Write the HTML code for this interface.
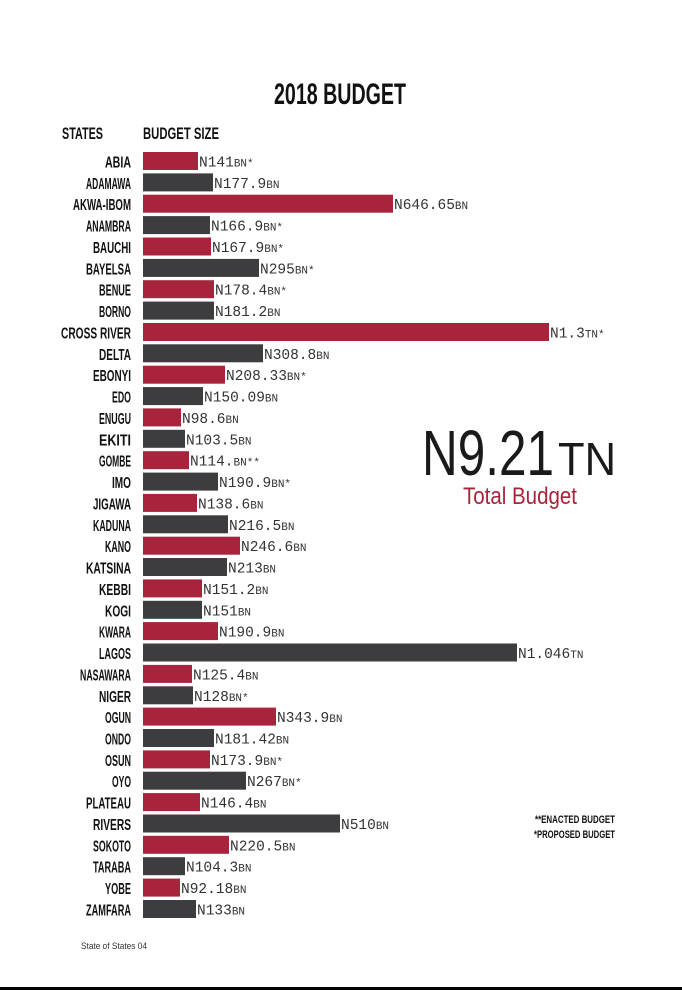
<!DOCTYPE html>
<html><head><meta charset="utf-8"><style>
html,body{margin:0;padding:0;background:#fff;width:682px;height:990px;overflow:hidden}
svg{display:block}
.st{font-family:"Liberation Sans",sans-serif;font-weight:bold;font-size:16px;fill:#111}
.v{font-family:"Liberation Mono",monospace;font-size:14.5px;fill:#333}
.s{font-size:11px}
</style></head><body>
<svg width="682" height="990" xmlns="http://www.w3.org/2000/svg">
<text x="340" y="104" text-anchor="middle" font-family="Liberation Sans,sans-serif" font-weight="bold" font-size="30" fill="#111" textLength="132" lengthAdjust="spacingAndGlyphs">2018 BUDGET</text>
<text x="62" y="139" font-family="Liberation Sans,sans-serif" font-weight="bold" font-size="17" fill="#111" textLength="41" lengthAdjust="spacingAndGlyphs">STATES</text>
<text x="143" y="139" font-family="Liberation Sans,sans-serif" font-weight="bold" font-size="17" fill="#111" textLength="76" lengthAdjust="spacingAndGlyphs">BUDGET SIZE</text>
<g id="rows"></g>
<text x="422" y="475" font-family="Liberation Sans,sans-serif" font-size="64" fill="#1a1a1a" textLength="132" lengthAdjust="spacingAndGlyphs">N9.21</text>
<text x="558" y="475" font-family="Liberation Sans,sans-serif" font-size="46" fill="#1a1a1a" textLength="58" lengthAdjust="spacingAndGlyphs">TN</text>
<text x="463" y="504" font-family="Liberation Sans,sans-serif" font-size="24" fill="#a8243c" textLength="114" lengthAdjust="spacingAndGlyphs">Total Budget</text>
<text x="615" y="823" text-anchor="end" font-family="Liberation Sans,sans-serif" font-weight="bold" font-size="11" fill="#111" textLength="80" lengthAdjust="spacingAndGlyphs">**ENACTED BUDGET</text>
<text x="615" y="838" text-anchor="end" font-family="Liberation Sans,sans-serif" font-weight="bold" font-size="11" fill="#111" textLength="81" lengthAdjust="spacingAndGlyphs">*PROPOSED BUDGET</text>
<text x="81" y="949" font-family="Liberation Sans,sans-serif" font-size="9" fill="#333" textLength="66" lengthAdjust="spacingAndGlyphs">State of States  04</text>
<rect x="0" y="987" width="682" height="3" fill="#000"/>
</svg>
<script>
var d=[["ABIA",198,"141","BN*"],["ADAMAWA",213,"177.9","BN"],["AKWA-IBOM",393,"646.65","BN"],["ANAMBRA",210,"166.9","BN*"],["BAUCHI",211,"167.9","BN*"],["BAYELSA",259,"295","BN*"],["BENUE",214,"178.4","BN*"],["BORNO",214,"181.2","BN"],["CROSS RIVER",549,"1.3","TN*"],["DELTA",263,"308.8","BN"],["EBONYI",225,"208.33","BN*"],["EDO",203,"150.09","BN"],["ENUGU",181,"98.6","BN"],["EKITI",185,"103.5","BN"],["GOMBE",189,"114.","BN**"],["IMO",218,"190.9","BN*"],["JIGAWA",197,"138.6","BN"],["KADUNA",228,"216.5","BN"],["KANO",240,"246.6","BN"],["KATSINA",227,"213","BN"],["KEBBI",202,"151.2","BN"],["KOGI",202,"151","BN"],["KWARA",218,"190.9","BN"],["LAGOS",517,"1.046","TN"],["NASAWARA",192,"125.4","BN"],["NIGER",193,"128","BN*"],["OGUN",276,"343.9","BN"],["ONDO",214,"181.42","BN"],["OSUN",210,"173.9","BN*"],["OYO",246,"267","BN*"],["PLATEAU",200,"146.4","BN"],["RIVERS",340,"510","BN"],["SOKOTO",229,"220.5","BN"],["TARABA",185,"104.3","BN"],["YOBE",180,"92.18","BN"],["ZAMFARA",196,"133","BN"]];
var g=document.getElementById("rows"),h="";
d.forEach(function(r,i){var y=152+i*21.37;var c=i%2?"#3d3c3e":"#a8243c";
var w=r[0].length*6.4;
h+='<rect x="143" y="'+y.toFixed(1)+'" width="'+(r[1]-143)+'" height="18" fill="'+c+'"/>';
h+='<text class="st" x="131" y="'+(y+15.5).toFixed(1)+'" text-anchor="end" textLength="'+w.toFixed(0)+'" lengthAdjust="spacingAndGlyphs">'+r[0]+'</text>';
h+='<text class="v" x="'+(r[1]+1)+'" y="'+(y+14.5).toFixed(1)+'">N'+r[2]+'<tspan class="s">'+r[3]+'</tspan></text>';});
g.innerHTML=h;
</script>
</body></html>
